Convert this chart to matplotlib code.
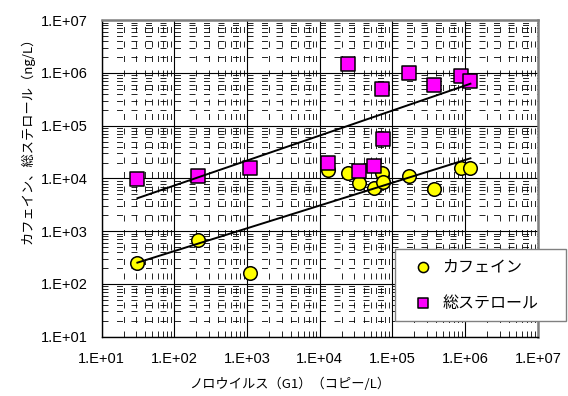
import numpy as np
import matplotlib.pyplot as plt
from matplotlib.ticker import LogLocator, FuncFormatter, NullFormatter

plt.rcParams['font.family'] = ['Noto Sans CJK JP', 'DejaVu Sans']

# norovirus G1 (copies/L) per sample, with caffeine and total sterols (ng/L)
norovirus = [3.1e1, 2.1e2, 1.09e3, 1.3e4, 2.45e4, 3.5e4, 5.6e4, 7.2e4, 7.3e4,
             1.68e5, 3.7e5, 8.8e5, 1.18e6]
caffeine = [2.5e2, 6.7e2, 1.6e2, 1.44e4, 1.25e4, 8.1e3, 6.7e3, 1.25e4, 8.7e3,
            1.1e4, 6.2e3, 1.55e4, 1.6e4]
sterols = [9.6e3, 1.12e4, 1.55e4, 1.93e4, 1.45e6, 1.4e4, 1.72e4, 4.9e5, 5.7e4,
           9.8e5, 5.9e5, 8.8e5, 7.0e5]

# power-law trend lines: log10(y) = slope * log10(x) + intercept
caf_slope, caf_icpt = 0.432, 1.758
ster_slope, ster_icpt = 0.474, 2.917

labels = ['カフェイン', '総ステロール']

fig = plt.figure(figsize=(5.68, 3.96), dpi=100)
ax = fig.add_axes([0.179, 0.150, 0.768, 0.799])
ax.set_xscale('log')
ax.set_yscale('log')
ax.set_xlim(1e1, 1e7)
ax.set_ylim(1e1, 1e7)

ax.scatter(norovirus, caffeine, s=95, marker='o', facecolor='#FFFF00',
           edgecolor='black', linewidth=1.1, zorder=3, label=labels[0])
ax.scatter(norovirus, sterols, s=105, marker='s', facecolor='#FF00FF',
           edgecolor='black', linewidth=1.1, zorder=3, label=labels[1])

lx = np.log10([min(norovirus), max(norovirus)])
ax.plot(10**lx, 10**(caf_slope * lx + caf_icpt), color='black', lw=1.4, zorder=4)
ax.plot(10**lx, 10**(ster_slope * lx + ster_icpt), color='black', lw=1.4, zorder=4)

for axis in (ax.xaxis, ax.yaxis):
    axis.set_major_locator(LogLocator(base=10, numticks=10))
    axis.set_minor_locator(LogLocator(base=10, subs=np.arange(2, 10), numticks=10))
    axis.set_minor_formatter(NullFormatter())
    axis.set_major_formatter(FuncFormatter(lambda v, _: f'1.E+{int(round(np.log10(v))):02d}'))

ax.grid(which='major', color='black', lw=0.8)
ax.grid(which='minor', color='black', lw=0.6, linestyle=(0, (7.2, 10.2)))
ax.set_axisbelow(True)

ax.tick_params(which='both', length=0)
ax.tick_params(axis='x', pad=11)
ax.tick_params(axis='y', pad=10)
for lbl in ax.get_xticklabels() + ax.get_yticklabels():
    lbl.set_family(['Liberation Sans', 'DejaVu Sans'])
    lbl.set_fontsize(10.5)
for s in ('top', 'right'):
    ax.spines[s].set_color('#808080')
    ax.spines[s].set_linewidth(1.8)
for s in ('left', 'bottom'):
    ax.spines[s].set_color('black')
    ax.spines[s].set_linewidth(1.0)

ax.set_xlabel('ノロウイルス（G1）（コピー/L）', fontsize=9.5)
ax.xaxis.set_label_coords(0.432, -0.13)
ax.set_ylabel('カフェイン、総ステロール（ng/L）', fontsize=9.5)
ax.yaxis.set_label_coords(-0.153, 0.63)

leg = fig.legend(loc='lower left', bbox_to_anchor=(0.695, 0.189, 0.301, 0.182),
                 mode='expand', fontsize=11.5, markerscale=0.75, frameon=True,
                 fancybox=False, framealpha=1, edgecolor='#808080',
                 borderpad=0.6, labelspacing=1.2, handlelength=2.3,
                 handletextpad=0.1, borderaxespad=0)
leg.get_frame().set_linewidth(1.0)

fig.savefig('out.png', dpi=100)
